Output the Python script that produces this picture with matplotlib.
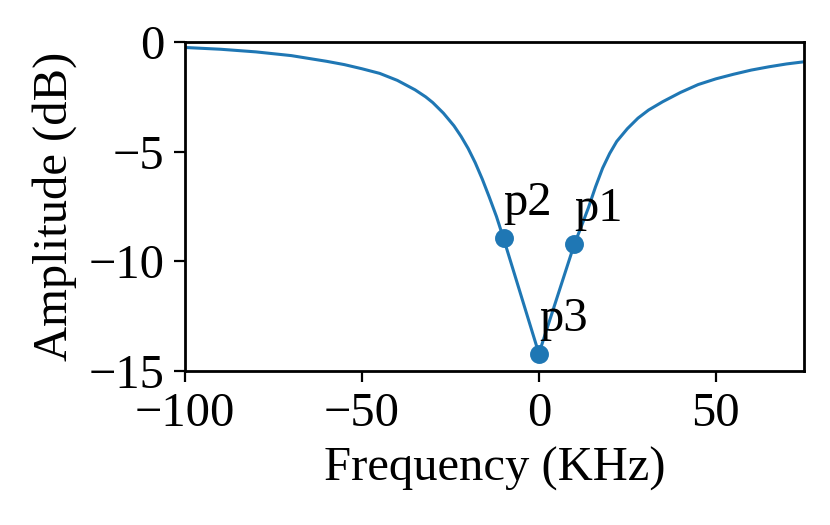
import numpy as np
import matplotlib
matplotlib.use("Agg")
import matplotlib.pyplot as plt

# Datos
frecuencia = [-100, -90, -80, -70, -60, -55, -50, -45, -40, -35, -32, -30,
              -27, -24, -22, -20, -18, -16, -14, -12, -10, 0, 10, 12, 14, 16,
              18, 20, 22, 25, 28, 31, 35, 40, 45, 50, 55, 60, 65, 70, 75]
amplitud = [-0.25, -0.33, -0.45, -0.62, -0.88, -1.03, -1.22, -1.43, -1.75,
            -2.18, -2.5, -2.76, -3.24, -3.82, -4.3, -4.85, -5.5, -6.25,
            -7.08, -7.95, -8.95, -14.2, -9.22, -8.4, -7.55, -6.6, -5.75,
            -5.08, -4.53, -3.95, -3.47, -3.1, -2.72, -2.3, -1.94, -1.68,
            -1.47, -1.28, -1.13, -1.0, -0.9]

# Puntos marcados
puntos_x = [10, -10, 0]
puntos_y = [-9.22, -8.95, -14.2]
etiquetas = ["p1", "p2", "p3"]

plt.rcParams["font.family"] = ["Liberation Serif", "DejaVu Serif"]
plt.rcParams["font.size"] = 17.5
plt.rcParams["axes.linewidth"] = 1.0
plt.rcParams["xtick.major.size"] = 4
plt.rcParams["ytick.major.size"] = 4

fig = plt.figure(figsize=(4.15, 2.625), dpi=200)
ax = fig.add_axes([0.223, 0.293, 0.746, 0.627])

ax.plot(frecuencia, amplitud, color="#1f77b4", linewidth=1.1)
ax.plot(puntos_x, puntos_y, "o", color="#1f77b4", markersize=5.8)
for px, py, et in zip(puntos_x, puntos_y, etiquetas):
    ax.text(px, py + 1.05, et, va="baseline", ha="left")

ax.set_xlim(-100, 75)
ax.set_ylim(-15, 0)
ax.set_xticks([-100, -50, 0, 50])
ax.set_yticks([0, -5, -10, -15])
ax.set_xlabel("Frequency (KHz)")
ax.set_ylabel("Amplitude (dB)")

fig.savefig("out.png", dpi=200)
